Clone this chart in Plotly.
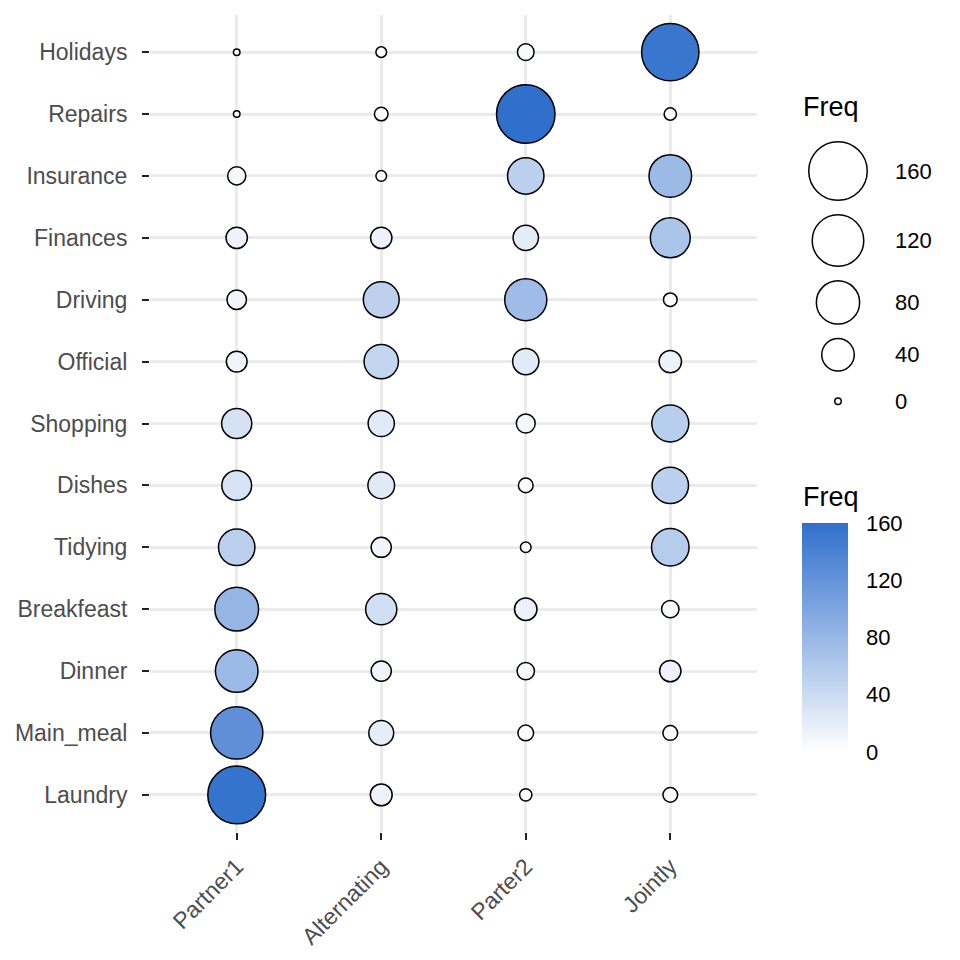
import plotly.graph_objects as go
import numpy as np

# ---- data ----
tasks = ["Laundry", "Main_meal", "Dinner", "Breakfeast", "Tidying", "Dishes",
         "Shopping", "Official", "Driving", "Finances", "Insurance", "Repairs", "Holidays"]
who = ["Partner1", "Alternating", "Parter2", "Jointly"]
partner1 = [156, 124, 77, 82, 53, 32, 33, 12, 10, 13, 8, 0, 0]
alternating = [14, 20, 11, 36, 11, 24, 23, 46, 51, 13, 1, 3, 1]
parter2 = [2, 5, 7, 15, 1, 4, 9, 23, 75, 21, 53, 160, 6]
jointly = [4, 4, 13, 7, 57, 53, 55, 15, 3, 66, 77, 2, 153]
size_breaks = [160, 120, 80, 40, 0]
color_ticks = [0, 40, 80, 120, 160]

series = [partner1, alternating, parter2, jointly]
xs, ys, vs = [], [], []
for w, vals in zip(who, series):
    for t, v in zip(tasks, vals):
        xs.append(w); ys.append(t); vs.append(v)

VMAX = 160.0
DMIN, DMAX = 8.0, 60.0
LW = 1.5


def diam(v):
    return DMIN + (DMAX - DMIN) * np.sqrt(np.asarray(v, float) / VMAX) - LW


colorscale = [[0, "#FFFFFF"], [1, "#3070CC"]]

TXT = "Liberation Sans, Arial, sans-serif"
W = H = 960
L_PX, R_PX, T_PX, B_PX = 150, 757, 15, 832
CB_X0, CB_W, CB_TOP, CB_BOT = 802, 46, 523, 752

fig = go.Figure()
fig.add_trace(go.Scatter(
    x=xs, y=ys, mode="markers", showlegend=False, hoverinfo="text",
    text=[f"{y} / {x}: {v}" for x, y, v in zip(xs, ys, vs)],
    marker=dict(
        size=diam(vs), sizemode="diameter", color=vs, cmin=0, cmax=VMAX, opacity=1,
        colorscale=colorscale, line=dict(color="black", width=LW),
        colorbar=dict(
            x=CB_X0 / W, xanchor="left", xpad=0,
            y=1 - (CB_TOP + CB_BOT) / 2 / H, yanchor="middle", ypad=0,
            lenmode="pixels", len=CB_BOT - CB_TOP, thicknessmode="pixels", thickness=CB_W,
            outlinewidth=0, tickvals=color_ticks, ticks="outside", ticklen=14,
            tickcolor="rgba(0,0,0,0)",
            tickfont=dict(family=TXT, size=22, color="black"),
        ),
    ),
))

# size legend drawn on a pixel-coordinate overlay axis
dk = DMIN + (DMAX - DMIN) * np.sqrt(np.array(size_breaks, float) / VMAX)
kh = np.maximum(dk + 13, 46)
cy = [171.0]
for i in range(1, len(dk)):
    cy.append(cy[-1] + (kh[i - 1] + kh[i]) / 2)
fig.add_trace(go.Scatter(
    x=[838] * len(size_breaks), y=cy, xaxis="x2", yaxis="y2", mode="markers",
    showlegend=False, hoverinfo="skip",
    marker=dict(size=diam(size_breaks), sizemode="diameter", color="white", opacity=1,
                line=dict(color="black", width=LW)),
))
for b, yy in zip(size_breaks, cy):
    fig.add_annotation(x=893, y=yy, xref="x2", yref="y2", text=str(b), showarrow=False,
                       xanchor="left", yanchor="middle", font=dict(family=TXT, size=22, color="black"))
fig.add_annotation(x=801, y=107, xref="x2", yref="y2", text="Freq", showarrow=False,
                   xanchor="left", yanchor="middle", font=dict(family=TXT, size=27, color="black"))
fig.add_annotation(x=801, y=497, xref="x2", yref="y2", text="Freq", showarrow=False,
                   xanchor="left", yanchor="middle", font=dict(family=TXT, size=27, color="black"))

# white tick marks inside the colour bar (both edges)
for v in color_ticks[1:-1]:
    yy = CB_BOT - (CB_BOT - CB_TOP) * v / VMAX
    for xa, xb in [(CB_X0, CB_X0 + 9), (CB_X0 + CB_W - 9, CB_X0 + CB_W)]:
        fig.add_shape(type="line", x0=xa, x1=xb, y0=yy, y1=yy, xref="x2", yref="y2",
                      line=dict(color="white", width=1.2), layer="above")

axis_common = dict(
    showgrid=True, gridcolor="#EBEBEB", gridwidth=2.5, zeroline=False, showline=False,
    ticks="outside", ticklen=7, tickwidth=2, tickcolor="#222222",
    tickfont=dict(family=TXT, size=23, color="#4D4D4D"), automargin=False,
)
fig.update_layout(
    width=W, height=H, autosize=False, margin=dict(l=0, r=0, t=0, b=0),
    paper_bgcolor="white", plot_bgcolor="rgba(0,0,0,0)", font=dict(family=TXT),
    xaxis=dict(type="category", categoryorder="array", categoryarray=who,
               range=[-0.6, 3.6], tickangle=-45, ticklabelstandoff=4,
               domain=[L_PX / W, R_PX / W], anchor="y", **axis_common),
    yaxis=dict(type="category", categoryorder="array", categoryarray=tasks,
               range=[-0.6, 12.6], ticklabelstandoff=10,
               domain=[1 - B_PX / H, 1 - T_PX / H], anchor="x", **axis_common),
    xaxis2=dict(domain=[0, 1], range=[0, W], visible=False, anchor="y2", fixedrange=True),
    yaxis2=dict(domain=[0, 1], range=[H, 0], visible=False, anchor="x2", fixedrange=True),
)

fig.write_html("out.html")
